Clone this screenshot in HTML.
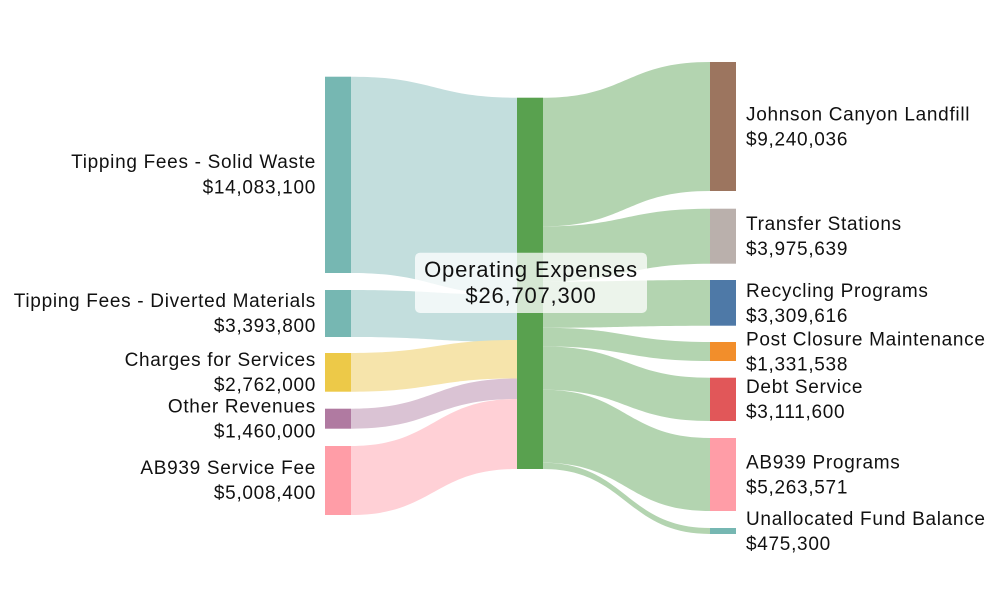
<!DOCTYPE html>
<html><head><meta charset="utf-8"><style>
body{margin:0;background:#fff;}
svg{display:block;}
text{font-family:"Liberation Sans",Arial,sans-serif;font-size:19px;letter-spacing:0.7px;fill:#111;}
</style></head><body>
<svg width="997" height="599" viewBox="0 0 997 599" xmlns="http://www.w3.org/2000/svg">
<path d="M351,76.7 C434,76.7 434,97.7 517,97.7 L517,294.8 C434,294.8 434,273 351,273 Z" fill="#c3dedd"/>
<path d="M351,290 C434,290 434,294.8 517,294.8 L517,342 C434,342 434,337 351,337 Z" fill="#c3dedd"/>
<path d="M351,353 C434,353 434,340 517,340 L517,378.5 C434,378.5 434,391.7 351,391.7 Z" fill="#f6e4ab"/>
<path d="M351,408.7 C434,408.7 434,378.5 517,378.5 L517,399 C434,399 434,428.7 351,428.7 Z" fill="#dac3d4"/>
<path d="M351,446 C434,446 434,399 517,399 L517,469 C434,469 434,515 351,515 Z" fill="#ffd0d6"/>
<g fill="#b3d4b0">
<path d="M543,97.7 C626,97.7 626,62 710,62 L710,191 C626,191 626,226.4 543,226.4 Z"/>
<path d="M543,226.4 C626,226.4 626,208.7 710,208.7 L710,263.7 C626,263.7 626,281.7 543,281.7 Z"/>
<path d="M543,281.7 C626,281.7 626,280 710,280 L710,325.7 C626,325.7 626,327.8 543,327.8 Z"/>
<path d="M543,327.8 C626,327.8 626,342 710,342 L710,361 C626,361 626,346.4 543,346.4 Z"/>
<path d="M543,346.4 C626,346.4 626,377.7 710,377.7 L710,421 C626,421 626,389.7 543,389.7 Z"/>
<path d="M543,389.7 C626,389.7 626,438 710,438 L710,511 C626,511 626,462.8 543,462.8 Z"/>
<path d="M543,462.8 C626,462.8 626,528 710,528 L710,534 C626,534 626,469 543,469 Z"/>
</g>
<rect x="325" y="76.7" width="26" height="196.3" fill="#76b7b2"/>
<rect x="325" y="290" width="26" height="47" fill="#76b7b2"/>
<rect x="325" y="353" width="26" height="38.7" fill="#edc948"/>
<rect x="325" y="408.7" width="26" height="20" fill="#b07aa1"/>
<rect x="325" y="446" width="26" height="69" fill="#ff9da7"/>
<rect x="517" y="97.7" width="26" height="371.3" fill="#59a14f"/>
<rect x="710" y="62" width="26" height="129" fill="#9c755f"/>
<rect x="710" y="208.7" width="26" height="55" fill="#bab0ac"/>
<rect x="710" y="280" width="26" height="45.7" fill="#4e79a7"/>
<rect x="710" y="342" width="26" height="19" fill="#f28e2b"/>
<rect x="710" y="377.7" width="26" height="43.3" fill="#e15759"/>
<rect x="710" y="438" width="26" height="73" fill="#ff9da7"/>
<rect x="710" y="528" width="26" height="6" fill="#76b7b2"/>
<g text-anchor="end">
<text x="316" y="168">Tipping Fees - Solid Waste</text><text x="316" y="193.5">$14,083,100</text>
<text x="316" y="307">Tipping Fees - Diverted Materials</text><text x="316" y="332">$3,393,800</text>
<text x="316" y="366">Charges for Services</text><text x="316" y="391">$2,762,000</text>
<text x="316" y="412.5">Other Revenues</text><text x="316" y="437.5">$1,460,000</text>
<text x="316" y="474">AB939 Service Fee</text><text x="316" y="499">$5,008,400</text>
</g>
<text x="746" y="120.5">Johnson Canyon Landfill</text><text x="746" y="145.5">$9,240,036</text>
<text x="746" y="230">Transfer Stations</text><text x="746" y="255">$3,975,639</text>
<text x="746" y="297">Recycling Programs</text><text x="746" y="322">$3,309,616</text>
<text x="746" y="345.5">Post Closure Maintenance</text><text x="746" y="370.5">$1,331,538</text>
<text x="746" y="393">Debt Service</text><text x="746" y="418">$3,111,600</text>
<text x="746" y="468.5">AB939 Programs</text><text x="746" y="493.5">$5,263,571</text>
<text x="746" y="525">Unallocated Fund Balance</text><text x="746" y="550">$475,300</text>
<rect x="415" y="252.7" width="232" height="60.3" rx="5" fill="#fff" fill-opacity="0.75"/>
<text x="531" y="277" text-anchor="middle" style="font-size:22px;letter-spacing:0.8px">Operating Expenses</text>
<text x="531" y="303" text-anchor="middle" style="font-size:22px;letter-spacing:0.8px">$26,707,300</text>
</svg>
</body></html>
